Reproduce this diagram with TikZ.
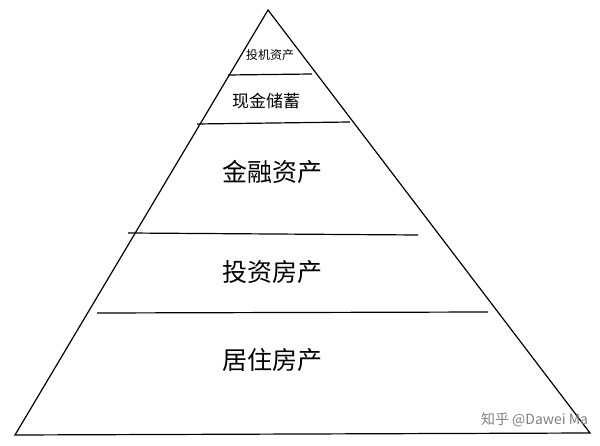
\documentclass[tikz,border=0pt]{standalone}
\usepackage{fontspec}
\setmainfont{Noto Sans CJK SC}
\usetikzlibrary{positioning}

\begin{document}
\begin{tikzpicture}[x=1pt, y=-1pt, line width=1.2pt,
		layer/.style = {font=\fontsize{25}{27}\selectfont},
		small/.style = {font=\fontsize{12}{14}\selectfont}]
	\useasboundingbox (0,0) rectangle (600,446);
	% outline
	\draw (268,10) -- (15,435) -- (590,433) -- cycle;
	% dividers
	\draw (228,75) -- (312,74);
	\draw (197,124) -- (350,122);
	\draw (128,233) -- (418,235);
	\draw (97,313) -- (488,312);
	% labels
	\node[small] (spec) at (270,55) {投机资产};
	\node[font=\fontsize{17}{19}\selectfont] (cash) at (266,101) {现金储蓄};
	\node[layer] (fin) at (272,172) {金融资产};
	\node[layer] (inv) at (272,272) {投资房产};
	\node[layer] (home) at (272,360) {居住房产};
	\node[text=gray, font=\fontsize{14}{16}\selectfont, anchor=east] (mark) at (592,420) {知乎 @Dawei Ma};
\end{tikzpicture}
\end{document}
